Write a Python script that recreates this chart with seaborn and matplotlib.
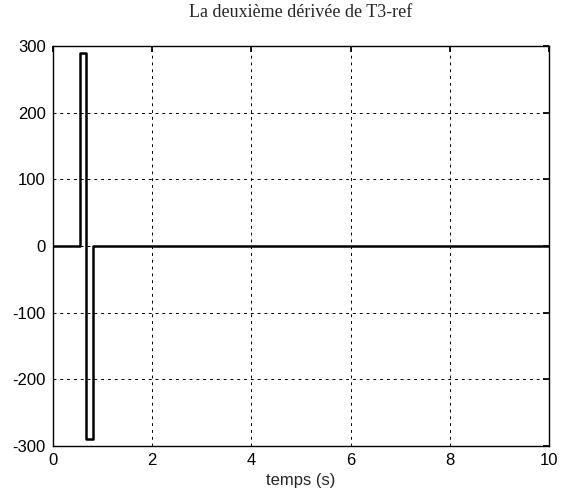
import matplotlib
matplotlib.use("Agg")
import matplotlib.pyplot as plt
import seaborn as sns
import pandas as pd

# Step profile of the second derivative of the reference trajectory
temps = [0.0, 0.55, 0.55, 0.675, 0.675, 0.80, 0.80, 10.0]
derivee2 = [0.0, 0.0, 290.0, 290.0, -290.0, -290.0, 0.0, 0.0]
x_ticks = [0, 2, 4, 6, 8, 10]
y_ticks = [-300, -200, -100, 0, 100, 200, 300]

sns.set_theme(style="white")
plt.rcParams["font.family"] = ["Liberation Sans", "DejaVu Sans"]
plt.rcParams["axes.unicode_minus"] = False

df = pd.DataFrame({"t": temps, "d2": derivee2})

fig = plt.figure(figsize=(5.69, 4.96), dpi=100)
ax = fig.add_axes([0.093, 0.101, 0.872, 0.806])

sns.lineplot(data=df, x="t", y="d2", ax=ax, color="black", linewidth=1.8,
             sort=False, estimator=None)

ax.set_xlim(0, 10)
ax.set_ylim(-300, 300)
ax.set_xticks(x_ticks)
ax.set_yticks(y_ticks)
ax.tick_params(direction="in", length=4, labelsize=12, colors="black",
               top=True, right=True, pad=5)
ax.grid(True, linestyle=(0, (3, 4)), color="black", linewidth=0.7)
for s in ax.spines.values():
    s.set_color("black")
    s.set_linewidth(1.0)

ax.set_xlabel("temps (s)", fontsize=12, labelpad=4)
ax.set_ylabel("")
ax.set_title("La deuxième dérivée de T3-ref", fontsize=13,
             family=["Liberation Serif", "DejaVu Serif"], pad=21)

fig.savefig("out.png", dpi=100)
